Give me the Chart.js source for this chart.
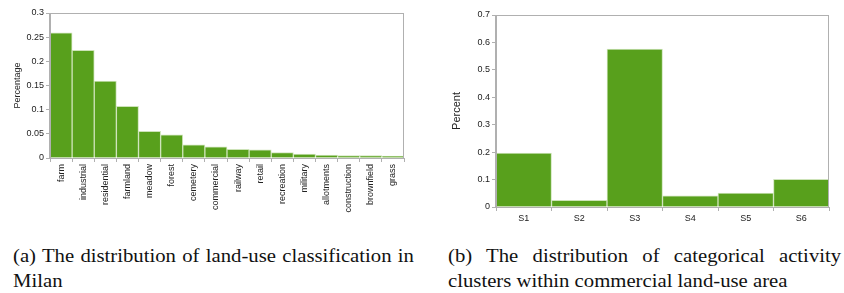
<!DOCTYPE html>
<html>
<head>
<meta charset="utf-8">
<script src="https://cdn.jsdelivr.net/npm/chart.js@4/dist/chart.umd.min.js"></script>
<style>
  html, body { margin: 0; padding: 0; background: #fff; }
  body { width: 844px; height: 293px; position: relative; overflow: hidden; }
  .box { position: absolute; }
  .cap { position: absolute; font-family: "Liberation Serif", "Times New Roman", serif; font-size: 18.5px; line-height: 25px; color: #111; white-space: nowrap; transform: scaleX(1.12); transform-origin: 0 0; }
  .just { text-align: justify; text-align-last: justify; white-space: normal; }
</style>
</head>
<body>
<div class="box" style="left:0;top:0;width:420px;height:230px;"><canvas id="c1"></canvas></div>
<div class="box" style="left:430px;top:0;width:414px;height:230px;"><canvas id="c2"></canvas></div>
<div class="cap just" style="left:13px;top:244px;width:358px;">(a) The distribution of land-use classification in</div>
<div class="cap" style="left:13px;top:269px;">Milan</div>
<div class="cap just" style="left:448px;top:244px;width:351px;">(b) The distribution of categorical activity</div>
<div class="cap" style="left:448px;top:269px;">clusters within commercial land-use area</div>
<script>
const landUseCategories = ["farm","industrial","residential","farmland","meadow","forest","cemetery","commercial","railway","retail","recreation","military","allotments","construction","brownfield","grass"];
const landUseValues = [0.259,0.223,0.159,0.107,0.055,0.048,0.027,0.023,0.018,0.017,0.011,0.008,0.006,0.005,0.005,0.004];
const landUseTicks = [0,0.05,0.1,0.15,0.2,0.25,0.3];

const clusterCategories = ["S1","S2","S3","S4","S5","S6"];
const clusterValues = [0.197,0.024,0.576,0.041,0.051,0.101];
const clusterTicks = [0,0.1,0.2,0.3,0.4,0.5,0.6,0.7];

const BAR = "#58a01c";
const EDGE = "#cde3b8";
const AXIS = "#b0b0b0";
const TXT = "#222";

const frame = {
  id: 'frame',
  afterDatasetsDraw(chart) {
    const a = chart.chartArea, ctx = chart.ctx;
    ctx.save();
    ctx.strokeStyle = AXIS;
    ctx.lineWidth = 1;
    ctx.strokeRect(a.left + 0.5, a.top + 0.5, a.right - a.left - 1, a.bottom - a.top);
    ctx.lineWidth = 2;
    ctx.beginPath(); ctx.moveTo(a.left, a.top); ctx.lineTo(a.left, a.bottom); ctx.stroke();
    ctx.restore();
  }
};

function makeChart(id, labels, values, ticks, title, titleSize, yWidth, xHeight, pad, rot) {
  const maxV = ticks[ticks.length - 1];
  return new Chart(document.getElementById(id), {
    type: 'bar',
    data: { labels, datasets: [{ data: values, backgroundColor: BAR, borderColor: EDGE, borderWidth: 1, borderSkipped: 'bottom', categoryPercentage: 1, barPercentage: 1 }] },
    options: {
      responsive: true, maintainAspectRatio: false, animation: false,
      layout: { padding: pad },
      plugins: { legend: { display: false }, tooltip: { enabled: false } },
      scales: {
        x: {
          offset: true,
          grid: { display: true, drawOnChartArea: false, offset: true, color: AXIS, tickLength: 4 },
          border: { display: false },
          ticks: { color: TXT, font: { family: "'Liberation Sans', Arial, sans-serif", size: 9 }, maxRotation: rot, minRotation: rot, autoSkip: false, padding: 2 },
          afterFit(s) { s.height = xHeight; }
        },
        y: {
          min: 0, max: maxV,
          afterBuildTicks(s) { s.ticks = ticks.map(v => ({ value: v })); },
          grid: { display: true, drawOnChartArea: false, color: AXIS, tickLength: 4 },
          border: { display: false },
          ticks: { color: TXT, font: { family: "'Liberation Sans', Arial, sans-serif", size: 9 }, padding: 2, callback: v => String(Math.round(v * 1000) / 1000) },
          title: { display: true, text: title, color: TXT, font: { family: "'Liberation Sans', Arial, sans-serif", size: titleSize }, padding: { top: 0, bottom: 4 } },
          afterFit(s) { s.width = yWidth; }
        }
      }
    },
    plugins: [frame]
  });
}

makeChart('c1', landUseCategories, landUseValues, landUseTicks, 'Percentage', 9, 38, 72, { left: 12, right: 16, top: 13, bottom: 0 }, 90);
makeChart('c2', clusterCategories, clusterValues, clusterTicks, 'Percent', 11, 46, 23, { left: 20, right: 15, top: 15, bottom: 0 }, 0);
</script>
</body>
</html>
